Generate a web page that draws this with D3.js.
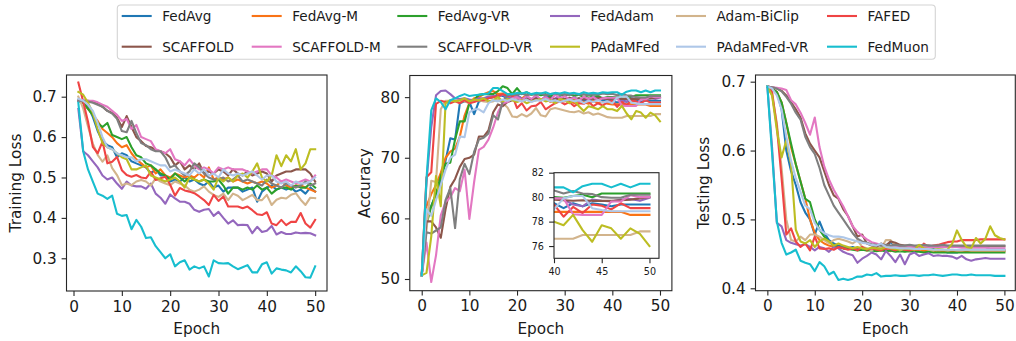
<!DOCTYPE html>
<html>
<head>
<meta charset="utf-8">
<script src="https://cdn.jsdelivr.net/npm/d3@7"></script>
<style>
  body { margin: 0; background: #fff; }
  svg { display: block; font-family: "DejaVu Sans", sans-serif; }
</style>
</head>
<body>
<svg id="chart" width="1016" height="341"></svg>
<script>

//----------------data-------------------------------------

const methods = ["FedAvg", "FedAvg-M", "FedAvg-VR", "FedAdam", "Adam-BiClip", "FAFED",
                 "SCAFFOLD", "SCAFFOLD-M", "SCAFFOLD-VR", "PAdaMFed", "PAdaMFed-VR", "FedMuon"];

const colors = ["#1f77b4", "#f97316", "#2ca02c", "#9467bd", "#d2b48c", "#ef4444",
                "#8c564b", "#e377c2", "#7f7f7f", "#bcbd22", "#aec7e8", "#17becf"];

// training loss, epochs 1..50
const trainFedAvg = [0.69,0.685,0.675,0.65,0.615,0.59,0.58,0.575,0.55,0.56, 0.555,0.54,0.535,0.53,0.525,0.51,0.52,0.505,0.505,0.49, 0.495,0.49,0.5,0.49,0.495,0.485,0.48,0.49,0.475,0.48, 0.465,0.475,0.475,0.475,0.465,0.47,0.475,0.44,0.465,0.475, 0.48,0.47,0.475,0.47,0.475,0.465,0.47,0.46,0.475,0.465];
const trainFedAvgM = [0.69,0.685,0.67,0.655,0.64,0.62,0.61,0.6,0.585,0.575, 0.58,0.56,0.545,0.535,0.525,0.53,0.51,0.52,0.505,0.5, 0.51,0.505,0.5,0.505,0.5,0.51,0.5,0.525,0.495,0.5, 0.495,0.5,0.49,0.495,0.49,0.485,0.49,0.485,0.49,0.485, 0.475,0.48,0.49,0.48,0.475,0.48,0.48,0.475,0.47,0.465];
const trainFedAvgVR = [0.69,0.685,0.67,0.655,0.635,0.625,0.635,0.605,0.6,0.595, 0.6,0.575,0.555,0.55,0.535,0.53,0.52,0.51,0.505,0.495, 0.51,0.5,0.49,0.5,0.495,0.49,0.495,0.49,0.49,0.495, 0.48,0.46,0.475,0.475,0.47,0.475,0.47,0.48,0.47,0.475, 0.46,0.47,0.475,0.475,0.47,0.48,0.475,0.475,0.485,0.475];
const trainFedAdam = [0.67,0.565,0.555,0.54,0.525,0.505,0.495,0.5,0.485,0.472, 0.49,0.48,0.478,0.478,0.472,0.485,0.46,0.45,0.435,0.458, 0.448,0.44,0.44,0.435,0.42,0.415,0.42,0.422,0.405,0.415, 0.4,0.386,0.394,0.382,0.383,0.382,0.362,0.378,0.365,0.368, 0.38,0.359,0.365,0.36,0.36,0.364,0.362,0.363,0.362,0.357];
const trainBiClip = [0.7,0.671,0.626,0.584,0.556,0.539,0.555,0.523,0.506,0.481, 0.485,0.481,0.49,0.494,0.49,0.48,0.498,0.49,0.485,0.481, 0.49,0.485,0.48,0.47,0.465,0.47,0.478,0.465,0.457,0.452, 0.46,0.444,0.46,0.455,0.444,0.45,0.457,0.444,0.444,0.457, 0.432,0.445,0.45,0.448,0.457,0.461,0.445,0.432,0.45,0.449];
const trainFAFED = [0.735,0.688,0.638,0.576,0.56,0.589,0.535,0.539,0.551,0.518, 0.506,0.502,0.506,0.5,0.498,0.514,0.494,0.498,0.502,0.482, 0.455,0.474,0.468,0.465,0.461,0.453,0.444,0.432,0.457,0.442, 0.453,0.428,0.428,0.428,0.424,0.428,0.419,0.409,0.407,0.414, 0.386,0.382,0.395,0.382,0.39,0.39,0.412,0.386,0.376,0.395];
const trainScaffold = [0.69,0.69,0.69,0.688,0.683,0.675,0.665,0.66,0.648,0.625, 0.652,0.625,0.6,0.59,0.578,0.575,0.568,0.565,0.56,0.55, 0.53,0.54,0.52,0.53,0.52,0.535,0.51,0.515,0.51,0.52, 0.515,0.505,0.52,0.51,0.505,0.515,0.505,0.51,0.515,0.51, 0.49,0.505,0.51,0.515,0.515,0.52,0.52,0.52,0.51,0.49];
const trainScaffoldM = [0.69,0.692,0.69,0.69,0.686,0.68,0.675,0.665,0.655,0.64, 0.645,0.62,0.63,0.6,0.595,0.59,0.57,0.565,0.56,0.57, 0.545,0.54,0.53,0.545,0.53,0.52,0.525,0.52,0.51,0.525, 0.52,0.525,0.52,0.52,0.52,0.515,0.51,0.515,0.52,0.52, 0.505,0.5,0.49,0.495,0.49,0.485,0.49,0.495,0.49,0.505];
const trainScaffoldVR = [0.69,0.69,0.688,0.685,0.68,0.675,0.665,0.658,0.645,0.615, 0.612,0.64,0.61,0.585,0.58,0.57,0.565,0.565,0.55,0.525, 0.53,0.515,0.505,0.515,0.535,0.525,0.51,0.5,0.495,0.495, 0.5,0.49,0.495,0.505,0.49,0.495,0.49,0.485,0.48,0.495, 0.485,0.48,0.475,0.485,0.48,0.475,0.48,0.49,0.48,0.485];
const trainPAdaMFed = [0.712,0.705,0.685,0.66,0.62,0.585,0.575,0.57,0.56,0.55, 0.545,0.52,0.52,0.525,0.53,0.505,0.5,0.495,0.49,0.495, 0.5,0.49,0.475,0.5,0.495,0.49,0.495,0.485,0.47,0.5, 0.49,0.5,0.49,0.505,0.51,0.5,0.515,0.535,0.5,0.49, 0.505,0.555,0.528,0.555,0.54,0.57,0.52,0.535,0.57,0.57];
const trainPAdaMFedVR = [0.695,0.69,0.68,0.665,0.635,0.6,0.575,0.57,0.56,0.555, 0.55,0.55,0.54,0.545,0.545,0.54,0.535,0.53,0.53,0.515, 0.52,0.515,0.51,0.505,0.52,0.51,0.52,0.505,0.51,0.5, 0.52,0.51,0.505,0.51,0.505,0.51,0.515,0.505,0.495,0.505, 0.505,0.49,0.485,0.49,0.48,0.49,0.485,0.485,0.49,0.5];
const trainFedMuon = [0.685,0.565,0.52,0.49,0.46,0.455,0.447,0.455,0.41,0.405, 0.407,0.372,0.395,0.378,0.35,0.352,0.33,0.315,0.3,0.31, 0.28,0.29,0.295,0.272,0.28,0.275,0.28,0.255,0.295,0.288, 0.287,0.288,0.28,0.273,0.278,0.283,0.265,0.265,0.285,0.29, 0.262,0.275,0.272,0.27,0.265,0.28,0.268,0.253,0.252,0.28];

// accuracy, epochs 0..50
const accFedAvg = [50.6,61,62,64,66,69.5,73.2,73.0,79.0,79.3, 79.2,77.2,79.3,79.5,79.8,80.0,80.5,80.2,79.8,80.0, 80.3,79.8,80.0,79.6,80.2,79.5,79.9,80.3,79.4,80.0, 79.7,79.5,79.2,79.8,79.4,79.6,79.3,79.7,79.5,79.6, 79.5,79.1,79.5,79.25,79.5,79.4,79.25,79.4,79.4,79.4,79.4];
const accFedAvgM = [50.6,62,64,65.5,67.5,70,71,71.5,73.5,77.0, 79.0,79.8,80.0,80.5,80.8,81.0,80.5,80.6,80.2,80.4, 80.0,79.8,80.3,79.5,79.7,79.4,80.0,79.2,79.6,79.5, 79.3,79.6,79.0,79.4,79.2,78.9,79.4,79.0,79.2,78.9, 78.8,78.8,78.8,78.8,78.8,78.8,78.8,78.8,78.55,78.55,78.55];
const accFedAvgVR = [50.6,59,62,64,67,69,69.2,73,76,76, 79.0,79.5,80.4,80.5,80.5,80.5,81.0,81.8,81.5,80.5, 81.5,80.5,80.8,80.4,80.6,80.3,80.5,80.2,80.6,80.4, 80.3,80.5,80.2,80.4,80.0,80.3,80.1,80.2,79.8,80.0, 80.0,79.95,80.1,80.2,80.0,80.3,80.3,80.3,80.3,80.3,80.3];
const accFedAdam = [50.6,66,75,80.3,81.0,81.1,80.5,79.8,79.7,79.8, 79.6,79.5,79.8,79.8,80.1,80.2,80.0,80.4,80.0,79.8, 80.2,79.7,79.9,79.6,80.0,79.5,80.2,79.4,79.8,80.0, 79.7,79.5,80.0,79.3,79.8,79.4,80.1,79.6,79.9,79.7, 79.9,79.8,79.4,79.25,79.8,79.7,79.65,79.8,79.85,79.7,79.95];
const accBiClip = [50.6,58,66.2,66.0,78.0,79.4,79.4,79.4,79.4,79.3, 79.0,79.3,79.5,79.3,79.2,79.3,79.6,79.0,78.3,76.8, 76.7,77.2,76.8,77.3,78.2,77.0,76.8,78.0,78.2,78.0, 77.8,77.6,77.5,77.7,77.3,77.5,77.1,77.3,77.0,76.7, 76.6,76.6,76.6,76.9,76.9,76.9,76.9,76.9,76.9,77.2,77.2];
const accFAFED = [50.6,66.8,67.6,78.9,79.4,79.2,79.0,79.3,79.0,79.5, 79.0,79.2,79.5,79.5,79.8,80.0,80.2,80.5,80.2,80.3, 78.2,79.0,77.8,78.5,78.6,79.2,78.0,78.5,79.0,79.3, 78.8,79.2,78.5,79.0,78.9,79.3,78.5,79.0,78.6,79.2, 79.4,78.4,79.2,78.7,79.4,79.3,79.0,79.5,79.1,79.1,79.1];
const accScaffold = [50.6,59.5,59.5,58.5,56.8,61.5,65.2,66.5,68.5,69.8, 70.0,70.5,73.5,73.5,74.5,77.5,78.8,78.5,79.2,79.5, 79.6,79.5,79.7,79.6,79.8,79.6,79.7,79.9,79.6,79.8, 79.7,79.9,79.7,79.8,79.6,79.8,79.7,79.9,79.8,79.7, 79.8,79.75,79.7,79.75,79.7,79.7,79.7,79.75,79.8,79.9,80.0];
const accScaffoldM = [50.6,56,49.5,53.9,60.5,62.7,63.5,65.0,64.5,68.0, 59.9,66.0,71.3,71.8,73.0,75.0,77.5,79.0,79.2,79.8, 80.0,79.5,80.2,79.7,80.3,79.6,80.0,79.5,80.4,79.8, 80.2,79.6,79.9,79.4,80.1,79.7,80.0,79.5,79.8,79.9, 79.9,79.9,78.6,78.55,78.55,78.55,79.65,79.65,80.15,80.0,80.0];
const accScaffoldVR = [50.6,57.7,57.5,58.0,58.5,63.0,65.0,58.4,66.5,69.0, 67.3,71.0,73.0,73.3,74.0,77.0,76.3,79.3,80.3,80.5, 80.4,80.6,80.3,80.5,80.4,80.6,80.3,80.5,80.6,80.4, 80.5,80.3,80.6,80.4,80.5,80.3,80.5,80.4,80.6,80.5, 80.55,80.3,80.5,80.3,80.25,80.0,79.95,79.95,80.2,80.2,80.2];
const accPAdaMFed = [50.6,51.0,57,67,62,79.0,79.5,79.3,79.5,79.8, 79.3,79.6,79.5,79.8,79.3,79.5,80.0,79.3,79.7,79.5, 79.2,79.5,79.0,79.3,79.5,79.7,79.3,79.5,79.0,79.7, 79.5,79.0,79.5,78.5,77.7,78.5,78.3,78.0,78.5,78.0, 78.0,77.7,78.55,77.3,76.35,77.7,77.45,76.6,77.45,77.0,76.0];
const accPAdaMFedVR = [50.6,61.5,60.4,63,65.5,68,70,70.5,73.5,73.4, 77.5,78,78,77.5,79,79.5,79.3,79.6,79.4,79.7, 79.5,79.3,79.6,79.2,79.5,79.4,79.7,79.3,79.5,79.2, 79.4,79.6,79.3,79.5,79.0,79.4,79.2,79.5,79.1,79.3, 79.0,79.9,80.1,80.1,79.1,78.95,78.85,78.85,78.85,78.85,78.85];
const accFedMuon = [50.6,66.5,77.8,79.8,79.2,78.0,79.5,79.8,80.2,80.5, 80.2,80.3,80.4,80.5,80.6,81.5,81.5,81.0,80.5,80.5, 80.7,80.6,80.8,80.5,80.7,80.6,80.8,80.5,80.7,80.6, 80.8,80.6,80.7,80.5,80.8,80.6,80.7,80.6,80.8,80.7, 80.8,80.8,80.4,80.9,81.1,81.1,80.8,81.1,80.8,81.1,81.1];

// testing loss, epochs 0..50
const testFedAvg = [0.693,0.69,0.685,0.66,0.6,0.57,0.55,0.525,0.51,0.5, 0.478,0.497,0.48,0.47,0.465,0.462,0.46,0.458,0.46,0.457, 0.458,0.456,0.458,0.457,0.459,0.456,0.468,0.46,0.457,0.458, 0.456,0.457,0.455,0.458,0.456,0.457,0.455,0.456,0.452,0.452, 0.452,0.455,0.454,0.455,0.455,0.455,0.455,0.455,0.455,0.455,0.455];
const testFedAvgM = [0.693,0.69,0.685,0.67,0.64,0.605,0.58,0.555,0.53,0.5, 0.48,0.47,0.465,0.462,0.46,0.46,0.458,0.457,0.458,0.456, 0.457,0.455,0.457,0.455,0.456,0.455,0.454,0.456,0.455,0.454, 0.455,0.454,0.455,0.454,0.455,0.454,0.455,0.454,0.455,0.454, 0.454,0.454,0.454,0.454,0.454,0.454,0.454,0.454,0.454,0.454,0.454];
const testFedAvgVR = [0.693,0.69,0.685,0.67,0.64,0.61,0.58,0.555,0.53,0.525, 0.5,0.485,0.475,0.468,0.462,0.46,0.458,0.457,0.456,0.455, 0.456,0.455,0.455,0.454,0.455,0.454,0.455,0.453,0.454,0.453, 0.454,0.453,0.453,0.452,0.453,0.452,0.452,0.452,0.452,0.452, 0.452,0.452,0.452,0.452,0.452,0.452,0.452,0.452,0.452,0.452,0.452];
const testFedAdam = [0.693,0.604,0.495,0.49,0.47,0.466,0.464,0.462,0.464,0.46, 0.455,0.46,0.458,0.453,0.46,0.458,0.453,0.45,0.448,0.437, 0.443,0.447,0.452,0.449,0.442,0.454,0.447,0.438,0.449,0.435, 0.449,0.452,0.447,0.449,0.451,0.447,0.448,0.447,0.447,0.446, 0.443,0.447,0.442,0.44,0.442,0.443,0.444,0.443,0.443,0.443,0.443];
const testBiClip = [0.693,0.68,0.64,0.575,0.5,0.47,0.468,0.475,0.47,0.478, 0.478,0.475,0.47,0.465,0.47,0.472,0.47,0.468,0.465,0.47, 0.46,0.458,0.455,0.46,0.458,0.47,0.47,0.462,0.455,0.458, 0.46,0.457,0.456,0.458,0.456,0.455,0.457,0.456,0.455,0.456, 0.455,0.455,0.456,0.455,0.455,0.455,0.455,0.455,0.455,0.455,0.455];
const testFAFED = [0.693,0.685,0.635,0.56,0.478,0.487,0.468,0.46,0.465,0.455, 0.475,0.458,0.457,0.458,0.456,0.46,0.458,0.456,0.458,0.455, 0.46,0.456,0.458,0.456,0.455,0.458,0.457,0.455,0.458,0.456, 0.455,0.457,0.456,0.465,0.46,0.462,0.463,0.465,0.467,0.468, 0.468,0.47,0.47,0.47,0.47,0.471,0.471,0.471,0.471,0.471,0.471];
const testScaffold = [0.693,0.692,0.69,0.687,0.68,0.67,0.66,0.648,0.625,0.61, 0.6,0.59,0.57,0.55,0.535,0.53,0.515,0.505,0.49,0.475, 0.478,0.465,0.462,0.46,0.465,0.462,0.468,0.466,0.463,0.462, 0.462,0.461,0.462,0.461,0.462,0.461,0.461,0.461,0.461,0.461, 0.461,0.461,0.461,0.461,0.461,0.461,0.461,0.461,0.461,0.461,0.461];
const testScaffoldM = [0.693,0.692,0.691,0.69,0.688,0.673,0.667,0.655,0.64,0.623, 0.648,0.605,0.577,0.558,0.543,0.531,0.519,0.505,0.49,0.482, 0.476,0.471,0.467,0.465,0.463,0.462,0.461,0.461,0.46,0.46, 0.46,0.46,0.46,0.46,0.46,0.46,0.46,0.46,0.46,0.46, 0.46,0.459,0.459,0.459,0.459,0.459,0.459,0.458,0.458,0.458,0.458];
const testScaffoldVR = [0.693,0.692,0.69,0.686,0.678,0.668,0.655,0.645,0.62,0.605, 0.595,0.575,0.55,0.535,0.52,0.51,0.5,0.49,0.48,0.472, 0.468,0.466,0.464,0.463,0.462,0.463,0.462,0.463,0.462,0.462, 0.463,0.462,0.462,0.463,0.462,0.462,0.462,0.463,0.462,0.462, 0.462,0.462,0.462,0.462,0.462,0.462,0.462,0.462,0.462,0.462,0.462];
const testPAdaMFed = [0.693,0.68,0.63,0.59,0.615,0.58,0.485,0.468,0.465,0.47, 0.46,0.468,0.472,0.468,0.462,0.465,0.462,0.46,0.458,0.46, 0.458,0.457,0.459,0.458,0.457,0.46,0.458,0.457,0.456,0.458, 0.457,0.456,0.463,0.458,0.457,0.456,0.457,0.456,0.456,0.465, 0.484,0.47,0.46,0.458,0.473,0.465,0.472,0.49,0.477,0.473,0.471];
const testPAdaMFedVR = [0.693,0.69,0.68,0.66,0.62,0.585,0.56,0.54,0.52,0.515, 0.495,0.485,0.48,0.477,0.475,0.475,0.474,0.472,0.47,0.468, 0.466,0.465,0.463,0.462,0.465,0.46,0.459,0.459,0.458,0.458, 0.458,0.457,0.457,0.457,0.457,0.456,0.456,0.456,0.456,0.456, 0.456,0.456,0.456,0.456,0.456,0.456,0.456,0.456,0.456,0.456,0.456];
const testFedMuon = [0.693,0.596,0.497,0.466,0.449,0.452,0.456,0.44,0.437,0.435, 0.425,0.438,0.432,0.42,0.424,0.412,0.414,0.412,0.414,0.417, 0.417,0.42,0.419,0.422,0.417,0.418,0.418,0.419,0.418,0.418, 0.419,0.419,0.418,0.419,0.419,0.42,0.419,0.418,0.419,0.42, 0.42,0.419,0.419,0.42,0.419,0.419,0.419,0.419,0.418,0.418,0.418];

const trainLoss = [trainFedAvg, trainFedAvgM, trainFedAvgVR, trainFedAdam, trainBiClip, trainFAFED,
                   trainScaffold, trainScaffoldM, trainScaffoldVR, trainPAdaMFed, trainPAdaMFedVR, trainFedMuon];
const accuracy = [accFedAvg, accFedAvgM, accFedAvgVR, accFedAdam, accBiClip, accFAFED,
                  accScaffold, accScaffoldM, accScaffoldVR, accPAdaMFed, accPAdaMFedVR, accFedMuon];
const testLoss = [testFedAvg, testFedAvgM, testFedAvgVR, testFedAdam, testBiClip, testFAFED,
                  testScaffold, testScaffoldM, testScaffoldVR, testPAdaMFed, testPAdaMFedVR, testFedMuon];

const trainEpochs = d3.range(1, 51);
const evalEpochs = d3.range(0, 51);
const lossTicks = [0.3, 0.4, 0.5, 0.6, 0.7];
const accTicks = [50, 60, 70, 80];
const testTicks = [0.4, 0.5, 0.6, 0.7];
const epochTicks = [0, 10, 20, 30, 40, 50];
const insetXTicks = [40, 45, 50];
const insetYTicks = [76, 78, 80, 82];


//----------------drawing-------------------------------------

const svg = d3.select('#chart');
const TICK_FONT = 15.3;
const TEXT = '#1a1a1a';
const SPINE = '#262626';

function drawPanel(cfg) {
  let g = svg.append('g');

  let x = d3.scaleLinear().domain(cfg.xDomain).range([cfg.left, cfg.right]);
  let y = d3.scaleLinear().domain(cfg.yDomain).range([cfg.bottom, cfg.top]);

  if (cfg.fill) {
    g.append('rect')
      .attr('x', cfg.left).attr('y', cfg.top)
      .attr('width', cfg.right - cfg.left).attr('height', cfg.bottom - cfg.top)
      .attr('fill', '#fff');
  }

  g.append('clipPath').attr('id', 'clip-' + cfg.id)
    .append('rect')
    .attr('x', cfg.left).attr('y', cfg.top)
    .attr('width', cfg.right - cfg.left).attr('height', cfg.bottom - cfg.top);

  let line = d3.line()
    .x(d => x(d[0]))
    .y(d => y(d[1]));

  let lines = g.append('g').attr('clip-path', 'url(#clip-' + cfg.id + ')');
  cfg.series.forEach(function(vals, i) {
    let pts = vals.map((v, j) => [cfg.epochs[j], v])
                  .filter(p => p[0] >= cfg.from);
    lines.append('path')
      .datum(pts)
      .attr('d', line)
      .attr('fill', 'none')
      .attr('stroke', colors[i])
      .attr('stroke-width', 2.1)
      .attr('stroke-linejoin', 'round')
      .attr('stroke-linecap', 'square');
  });

  let xAxis = g.append('g')
    .attr('transform', 'translate(0,' + cfg.bottom + ')')
    .call(d3.axisBottom(x).tickValues(cfg.xTicks).tickFormat(d3.format('d'))
          .tickSize(4.9).tickPadding(cfg.pad).tickSizeOuter(0));

  let yAxis = g.append('g')
    .attr('transform', 'translate(' + cfg.left + ',0)')
    .call(d3.axisLeft(y).tickValues(cfg.yTicks).tickFormat(d3.format(cfg.yFormat))
          .tickSize(4.9).tickPadding(cfg.pad).tickSizeOuter(0));

  [xAxis, yAxis].forEach(function(a) {
    a.select('.domain').remove();
    a.selectAll('line').attr('stroke', SPINE).attr('stroke-width', 1.1);
    a.selectAll('text')
      .attr('fill', TEXT)
      .style('font-size', cfg.font + 'px')
      .style('font-family', '"DejaVu Sans", sans-serif');
  });

  g.append('rect')
    .attr('x', cfg.left).attr('y', cfg.top)
    .attr('width', cfg.right - cfg.left).attr('height', cfg.bottom - cfg.top)
    .attr('fill', 'none')
    .attr('stroke', SPINE)
    .attr('stroke-width', 1.1);

  if (cfg.yLabel) {
    g.append('text')
      .attr('transform', 'translate(' + cfg.yLabelX + ',' + ((cfg.top + cfg.bottom) / 2) + ') rotate(-90)')
      .attr('dy', '0.35em')
      .attr('text-anchor', 'middle')
      .attr('fill', TEXT)
      .style('font-size', TICK_FONT + 'px')
      .text(cfg.yLabel);

    g.append('text')
      .attr('x', (cfg.left + cfg.right) / 2)
      .attr('y', 334)
      .attr('text-anchor', 'middle')
      .attr('fill', TEXT)
      .style('font-size', TICK_FONT + 'px')
      .text('Epoch');
  }
}

drawPanel({
  id: 'train', series: trainLoss, epochs: trainEpochs, from: 0,
  left: 66.5, right: 327, top: 75, bottom: 291,
  xDomain: [-1.45, 52.45], yDomain: [0.219, 0.7537],
  xTicks: epochTicks, yTicks: lossTicks, yFormat: '.1f',
  font: TICK_FONT, pad: 4.9, yLabel: 'Training Loss', yLabelX: 16
});

drawPanel({
  id: 'acc', series: accuracy, epochs: evalEpochs, from: 0,
  left: 409.8, right: 671.9, top: 75.5, bottom: 290.7,
  xDomain: [-2.5, 52.5], yDomain: [48.07, 83.57],
  xTicks: epochTicks, yTicks: accTicks, yFormat: 'd',
  font: TICK_FONT, pad: 4.9, yLabel: 'Accuracy', yLabelX: 364.3
});

drawPanel({
  id: 'test', series: testLoss, epochs: evalEpochs, from: 0,
  left: 755.5, right: 1015.3, top: 75, bottom: 290.7,
  xDomain: [-2.5, 52.3], yDomain: [0.3965, 0.7097],
  xTicks: epochTicks, yTicks: testTicks, yFormat: '.1f',
  font: TICK_FONT, pad: 4.9, yLabel: 'Testing Loss', yLabelX: 703.3
});

// zoomed inset of the last ten epochs
drawPanel({
  id: 'inset', series: accuracy, epochs: evalEpochs, from: 40, fill: true,
  left: 554, right: 659, top: 172.7, bottom: 258.3,
  xDomain: [40, 51], yDomain: [75, 82],
  xTicks: insetXTicks, yTicks: insetYTicks, yFormat: 'd',
  font: 9.6, pad: 5.2
});


//----------------legend-------------------------------------

const legendCols = [121.7, 251.7, 397.3, 550, 676, 827];
const legendRows = [16, 46.7];

let legend = svg.append('g');
legend.append('rect')
  .attr('x', 117.3).attr('y', 5)
  .attr('width', 818).attr('height', 54.3)
  .attr('rx', 3.5)
  .attr('fill', '#fff').attr('fill-opacity', 0.8)
  .attr('stroke', '#d4d4d4').attr('stroke-width', 1.1);

methods.forEach(function(m, i) {
  let lx = legendCols[i % 6];
  let ly = legendRows[Math.floor(i / 6)];
  legend.append('line')
    .attr('x1', lx).attr('x2', lx + 30)
    .attr('y1', ly).attr('y2', ly)
    .attr('stroke', colors[i]).attr('stroke-width', 2.1);
  legend.append('text')
    .attr('x', lx + 40.5).attr('y', ly)
    .attr('dy', '0.36em')
    .attr('fill', TEXT)
    .style('font-size', '13.6px')
    .text(m);
});

</script>
</body>
</html>
